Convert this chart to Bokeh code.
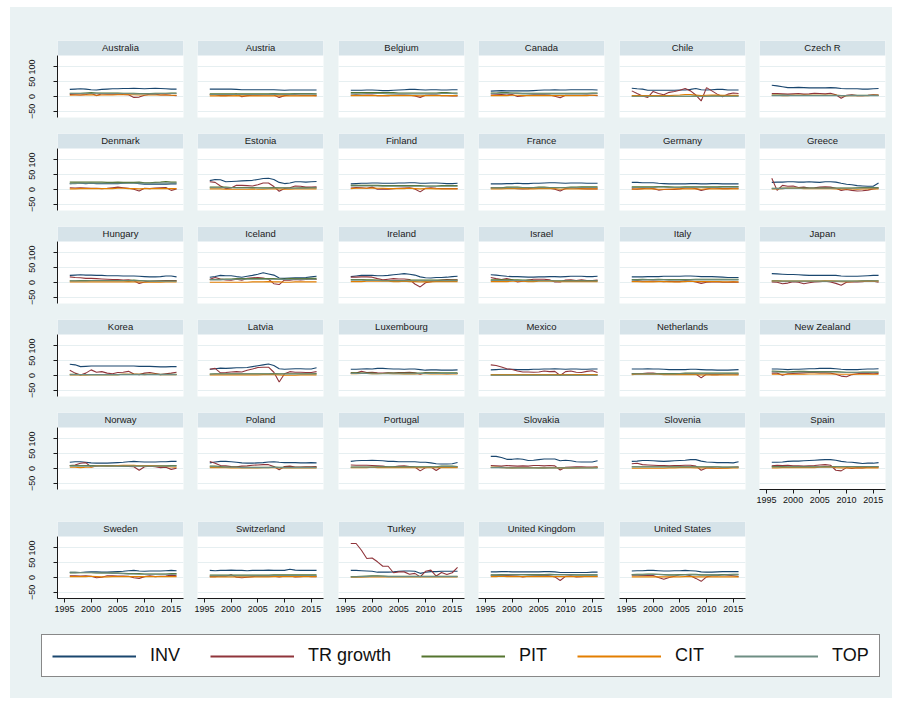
from bokeh.plotting import figure
from bokeh.layouts import column, row
from bokeh.models import Range1d, FixedTicker, BoxAnnotation, Label, Legend, LegendItem
from bokeh.embed import file_html
from bokeh.resources import INLINE

YEARS = list(range(1996, 2017))
X_TICKS = [1995, 2000, 2005, 2010, 2015]
Y_TICKS = [-50, 0, 50, 100]
SERIES = ["INV", "TR growth", "PIT", "CIT", "TOP"]
COUNTRIES = [
    "Australia", "Austria", "Belgium", "Canada", "Chile", "Czech R",
    "Denmark", "Estonia", "Finland", "France", "Germany", "Greece",
    "Hungary", "Iceland", "Ireland", "Israel", "Italy", "Japan",
    "Korea", "Latvia", "Luxembourg", "Mexico", "Netherlands", "New Zealand",
    "Norway", "Poland", "Portugal", "Slovakia", "Slovenia", "Spain",
    "Sweden", "Switzerland", "Turkey", "United Kingdom", "United States",
]

INV = {
    "Australia": [24,25,26,25,23,22,24,25,26,26,27,27,28,27,26,27,28,27,26,25,25],
    "Austria": [25,25,25,25,25,24,23,23,23,23,23,23,23,22,21,22,22,22,22,22,22],
    "Belgium": [21,21,21,22,22,21,20,20,21,22,23,24,24,23,22,23,23,22,22,23,23],
    "Canada": [18,19,20,19,19,19,19,19,20,21,22,22,23,22,22,23,23,23,23,23,22],
    "Chile": [28,26,25,21,21,21,21,21,21,22,22,24,27,23,22,23,24,24,22,22,22],
    "Czech R": [38,36,33,30,30,31,30,29,29,29,29,30,29,27,26,26,26,25,25,26,27],
    "Denmark": [20,21,21,20,21,20,20,20,20,20,21,22,22,20,18,18,18,18,18,19,19],
    "Estonia": [30,34,33,26,27,28,29,30,31,34,37,38,34,24,20,22,26,26,25,26,27],
    "Finland": [19,20,21,21,22,22,21,21,21,22,22,23,23,21,21,22,22,21,20,20,21],
    "France": [19,19,19,20,20,21,20,20,21,21,22,23,23,22,21,22,22,22,21,21,21],
    "Germany": [24,24,23,23,23,21,20,19,19,19,19,20,20,19,19,20,20,19,19,19,19],
    "Greece": [24,25,25,26,26,25,25,26,25,24,26,26,25,21,18,16,13,12,11,11,22],
    "Hungary": [24,25,26,25,25,24,24,23,23,23,22,22,22,21,20,19,19,20,22,22,19],
    "Iceland": [18,20,24,23,23,20,18,21,24,28,33,29,25,15,14,15,16,16,17,19,21],
    "Ireland": [20,22,24,24,24,23,23,24,26,28,30,28,25,19,16,15,17,17,18,20,21],
    "Israel": [26,25,23,21,20,20,19,18,18,19,19,20,20,19,20,21,21,21,20,20,21],
    "Italy": [19,19,19,20,20,20,21,21,21,21,22,22,21,20,20,20,19,18,17,17,17],
    "Japan": [30,29,28,27,27,26,25,24,24,24,24,24,24,22,21,21,21,22,23,24,24],
    "Korea": [38,36,30,31,32,32,32,32,32,32,32,32,32,31,31,31,30,29,29,30,30],
    "Latvia": [21,23,25,24,25,26,26,27,30,33,36,39,34,23,21,22,23,23,22,22,26],
    "Luxembourg": [21,21,22,23,22,24,24,23,22,22,21,22,22,20,18,19,19,18,18,18,19],
    "Mexico": [19,20,21,21,21,20,20,20,21,21,22,22,23,22,21,22,22,21,21,22,22],
    "Netherlands": [22,22,22,23,22,22,21,20,20,20,20,21,21,20,19,19,18,18,18,19,20],
    "New Zealand": [22,22,21,20,21,21,22,23,23,24,24,24,23,21,20,20,20,21,22,22,23],
    "Norway": [21,23,23,21,19,18,18,18,19,20,21,23,24,23,22,22,22,23,23,24,24],
    "Poland": [19,22,24,24,23,21,19,18,18,19,20,22,23,21,20,20,20,19,19,20,19],
    "Portugal": [24,26,27,27,28,27,26,24,24,23,23,23,23,21,21,19,16,15,15,16,20],
    "Slovakia": [41,41,37,31,31,33,31,27,28,30,32,32,32,26,28,26,23,22,22,22,26],
    "Slovenia": [24,25,27,27,26,25,24,25,26,27,28,30,30,25,22,21,20,20,20,19,23],
    "Spain": [21,21,22,24,25,25,26,27,28,29,30,30,28,24,22,21,19,17,18,18,20],
    "Sweden": [17,16,17,18,19,19,18,18,19,20,21,23,24,22,21,22,22,22,23,24,23],
    "Switzerland": [24,23,24,24,25,24,24,23,24,24,24,25,24,24,24,28,25,24,24,24,24],
    "Turkey": [24,24,23,22,21,18,18,18,19,21,22,22,21,14,18,20,20,21,21,21,21],
    "United Kingdom": [19,19,20,20,19,19,19,19,19,19,20,20,19,17,17,17,17,17,17,18,18],
    "United States": [22,23,23,24,24,23,22,22,23,23,24,23,22,19,18,18,19,20,20,20,20],
}

TR_GROWTH = {
    "Australia": [7,6,5,7,10,3,9,8,8,9,7,6,-3,-2,4,8,8,5,6,4,3],
    "Austria": [6,6,3,3,4,8,-1,3,4,4,5,6,5,-3,3,5,6,4,4,4,3],
    "Belgium": [4,6,4,5,5,3,3,3,4,5,5,4,2,-3,4,5,5,3,3,2,2],
    "Canada": [5,6,7,5,7,0,2,4,6,6,6,5,1,-4,4,4,4,4,5,4,3],
    "Chile": [19,10,2,-3,17,10,6,14,17,21,27,19,5,-15,30,19,8,-1,8,12,10],
    "Czech R": [10,10,9,8,9,10,8,9,11,10,9,11,6,-6,4,6,3,3,4,6,5],
    "Denmark": [6,5,6,5,4,4,3,4,6,8,6,4,1,-5,4,3,5,6,7,-3,2],
    "Estonia": [26,24,12,3,5,14,14,13,12,16,22,22,10,-6,3,6,12,11,8,8,9],
    "Finland": [5,7,6,4,8,1,2,1,3,4,5,6,2,-8,4,6,4,3,3,3,3],
    "France": [6,5,5,6,4,3,2,3,5,6,5,4,1,-5,3,6,4,3,2,2,2],
    "Germany": [2,1,3,5,3,-2,0,1,0,2,5,6,3,-3,1,6,4,3,3,4,4],
    "Greece": [38,-3,14,11,12,7,8,5,6,8,9,8,4,-3,0,-3,-5,-4,-2,2,4],
    "Hungary": [19,17,16,14,14,13,12,11,10,10,8,9,6,-3,2,4,5,6,7,7,7],
    "Iceland": [11,17,12,9,8,11,8,14,16,17,15,11,-4,-7,9,8,10,9,10,12,10],
    "Ireland": [18,18,19,19,18,13,9,11,13,12,12,10,-5,-15,-1,3,6,8,10,9,9],
    "Israel": [17,13,10,13,9,2,4,8,11,11,11,9,2,2,8,9,7,9,7,7,8],
    "Italy": [4,7,4,4,5,4,3,4,3,3,7,5,2,-3,1,2,3,1,1,2,1],
    "Japan": [2,1,-4,-2,3,1,-4,-1,2,3,4,2,-3,-9,1,2,2,3,5,4,1],
    "Korea": [18,8,2,8,19,11,13,8,6,10,11,14,5,3,8,10,7,3,6,8,11],
    "Latvia": [21,24,9,10,12,13,12,18,22,27,28,28,11,-22,6,13,11,11,10,10,13],
    "Luxembourg": [9,8,14,10,11,9,8,9,8,10,10,11,9,4,9,8,8,7,6,7,7],
    "Mexico": [36,34,29,23,20,15,12,12,11,12,15,13,14,0,13,15,11,10,14,16,10],
    "Netherlands": [6,6,7,8,8,6,4,5,5,6,7,6,5,-8,5,3,3,4,6,5,4],
    "New Zealand": [8,8,1,6,7,8,9,10,10,9,9,8,4,-2,-4,3,6,8,7,6,7],
    "Norway": [10,12,18,20,5,8,10,8,9,9,8,7,6,-6,6,8,6,3,4,-3,1],
    "Poland": [24,18,10,9,7,6,8,9,11,12,13,13,7,-4,7,8,5,5,6,6,7],
    "Portugal": [12,11,11,11,10,9,8,5,6,8,9,7,5,-8,3,5,-7,5,5,5,4],
    "Slovakia": [10,9,8,10,9,8,9,8,10,10,9,10,9,-5,4,5,6,6,5,5,6],
    "Slovenia": [16,18,13,12,11,10,10,9,10,10,11,11,8,-6,2,2,1,2,3,4,5],
    "Spain": [9,11,10,11,9,9,8,9,10,12,13,11,-6,-8,3,0,3,2,4,5,4],
    "Sweden": [6,6,5,6,4,-1,1,6,6,5,5,4,-1,-3,3,6,3,4,5,8,6],
    "Switzerland": [3,3,5,4,9,1,-1,1,3,5,4,5,4,2,4,5,2,3,4,3,3],
    "Turkey": [115,115,92,64,66,53,38,38,16,19,19,11,14,2,21,25,5,17,10,16,34],
    "United Kingdom": [6,7,8,7,6,5,2,4,6,7,8,6,2,-10,4,6,2,3,4,4,4],
    "United States": [8,8,7,7,7,0,-6,0,4,10,10,6,-3,-13,2,6,6,10,8,6,3],
}

PIT = {
    "Australia": [11,11,11,12,13,12,12,12,12,12,11,11,11,10,10,10,11,11,11,12,12],
    "Austria": [9,9,9,9,9,9,9,9,9,9,9,9,10,9,9,9,10,10,10,10,9],
    "Belgium": [13,13,13,13,13,13,13,13,13,12,12,12,12,12,12,12,12,13,13,12,12],
    "Canada": [12,12,13,13,12,12,11,11,11,11,11,11,11,11,11,11,11,11,11,12,12],
    "Chile": [1,1,1,1,1,1,1,1,1,1,1,1,2,1,1,2,2,2,2,2,2],
    "Czech R": [5,5,5,4,4,4,4,4,4,4,4,4,4,3,3,4,4,4,4,4,4],
    "Denmark": [25,25,25,25,25,25,25,24,24,25,24,24,24,25,23,23,24,25,27,25,25],
    "Estonia": [8,8,8,8,7,7,7,7,7,6,6,6,7,6,6,5,5,6,6,6,6],
    "Finland": [14,14,14,14,14,14,13,13,13,13,13,13,13,13,12,12,12,13,13,13,13],
    "France": [5,6,6,8,8,8,7,7,7,8,8,7,7,7,7,8,8,9,9,9,9],
    "Germany": [9,9,9,9,9,10,10,9,8,8,9,9,9,9,9,9,9,10,10,10,10],
    "Greece": [4,4,5,5,5,5,5,5,5,5,5,5,5,5,5,5,6,7,7,7,7],
    "Hungary": [6,6,7,7,7,7,7,7,7,7,7,7,8,7,6,5,5,5,5,5,5],
    "Iceland": [10,10,11,12,12,13,13,13,13,13,13,13,13,12,12,13,13,13,13,14,14],
    "Ireland": [10,10,10,9,9,8,7,7,7,7,7,8,8,8,8,8,8,8,8,8,8],
    "Israel": [9,9,9,9,9,9,8,8,7,7,7,7,6,6,6,6,6,6,6,6,6],
    "Italy": [10,10,11,10,10,11,10,10,10,10,10,10,11,11,11,11,11,11,11,11,11],
    "Japan": [6,6,5,5,5,5,5,5,5,5,5,5,5,5,5,5,5,6,6,6,6],
    "Korea": [4,4,3,3,3,3,3,3,3,3,4,4,4,4,4,4,4,4,4,4,4],
    "Latvia": [5,6,6,6,6,6,6,6,6,6,6,6,7,6,6,6,6,6,6,6,7],
    "Luxembourg": [9,9,8,8,8,7,7,8,8,8,8,8,8,8,9,9,9,9,9,9,9],
    "Mexico": [2,2,2,2,2,2,2,2,2,2,2,2,2,2,2,2,2,2,2,2,2],
    "Netherlands": [6,6,6,6,6,7,7,7,7,7,8,8,8,8,8,8,8,8,8,8,8],
    "New Zealand": [15,14,13,12,13,14,14,13,13,13,13,13,13,12,11,11,11,12,12,12,12],
    "Norway": [10,10,10,10,10,10,10,10,10,9,9,9,9,9,9,9,9,9,9,10,10],
    "Poland": [8,8,7,5,5,5,4,4,4,4,4,4,5,4,4,4,4,4,4,4,4],
    "Portugal": [5,5,5,5,5,6,6,6,6,6,6,6,6,6,6,6,6,8,8,8,7],
    "Slovakia": [4,4,4,3,3,3,3,3,3,2,2,3,3,3,2,2,3,3,3,3,3],
    "Slovenia": [6,6,6,6,6,6,6,6,6,6,6,6,6,6,6,6,6,5,5,5,5],
    "Spain": [7,7,7,6,6,6,6,6,6,6,7,7,7,7,7,7,7,7,7,7,7],
    "Sweden": [15,16,16,16,16,15,15,15,15,15,14,13,13,13,12,12,12,12,12,13,13],
    "Switzerland": [8,8,8,8,8,8,8,8,8,8,8,8,9,9,9,9,9,9,9,9,9],
    "Turkey": [3,3,4,5,6,6,5,4,4,4,4,4,4,4,4,4,4,4,4,4,4],
    "United Kingdom": [9,9,10,10,10,10,10,10,10,10,10,11,10,10,10,10,9,9,9,9,9],
    "United States": [10,11,11,12,12,11,10,9,9,10,10,11,11,9,9,9,9,10,10,11,11],
}

CIT = {
    "Australia": [4,5,5,5,6,4,5,5,5,6,6,6,6,5,5,5,5,5,5,4,4],
    "Austria": [2,2,2,2,2,3,2,2,2,2,2,2,2,2,2,2,2,2,2,2,2],
    "Belgium": [3,3,3,3,3,3,3,3,3,3,3,3,3,2,3,3,3,3,3,3,3],
    "Canada": [3,3,3,3,4,4,3,3,3,3,3,3,3,3,3,3,3,3,3,4,4],
    "Chile": [3,3,3,3,3,3,3,3,4,5,7,7,5,3,4,5,5,4,4,4,4],
    "Czech R": [4,4,3,3,4,4,4,4,4,4,4,4,4,3,3,3,3,3,3,4,4],
    "Denmark": [2,2,3,3,3,3,3,3,3,4,4,3,3,2,3,3,3,3,3,3,3],
    "Estonia": [2,2,2,1,1,1,1,1,2,1,1,2,2,2,1,1,2,2,2,2,2],
    "Finland": [3,4,4,4,5,4,4,3,3,3,3,4,3,2,3,3,2,2,2,2,2],
    "France": [2,2,2,3,3,3,3,2,2,3,3,3,3,1,2,2,2,2,2,2,2],
    "Germany": [1,2,2,2,2,1,1,1,2,2,2,2,2,1,2,2,2,2,2,2,2],
    "Greece": [2,2,3,4,4,4,3,3,3,3,3,3,2,2,2,2,1,2,2,2,2],
    "Hungary": [2,2,2,2,2,2,2,2,2,2,2,3,2,2,1,1,1,1,2,2,2],
    "Iceland": [1,1,1,1,1,1,1,1,2,2,2,3,2,2,1,1,2,2,2,2,2],
    "Ireland": [3,3,3,4,4,4,4,4,3,3,4,3,3,2,3,2,3,3,3,3,3],
    "Israel": [3,3,3,3,4,4,4,3,3,4,5,4,4,3,3,3,3,3,3,3,3],
    "Italy": [3,3,2,3,2,3,3,2,2,2,3,4,3,3,3,3,3,2,2,2,2],
    "Japan": [5,5,4,4,4,4,4,4,4,4,5,5,4,3,3,3,4,4,4,4,4],
    "Korea": [2,2,2,2,3,3,3,3,3,3,4,4,4,4,3,4,4,3,3,3,3],
    "Latvia": [2,2,2,2,2,2,2,2,2,2,3,3,3,2,1,1,1,2,2,2,2],
    "Luxembourg": [6,6,7,7,6,6,7,7,6,6,5,5,5,6,6,5,5,5,5,5,5],
    "Mexico": [2,2,2,2,2,2,2,2,2,2,2,2,2,2,2,2,3,3,3,3,3],
    "Netherlands": [3,4,4,4,4,4,3,3,3,3,3,3,3,2,2,2,2,2,2,2,2],
    "New Zealand": [4,4,4,4,4,4,4,5,5,5,5,5,5,4,4,4,4,4,4,4,4],
    "Norway": [4,4,3,4,4,9,8,8,8,10,11,11,11,9,9,10,9,8,7,5,4],
    "Poland": [3,3,3,3,2,2,2,2,2,2,3,3,3,2,2,2,2,2,2,2,2],
    "Portugal": [3,3,3,3,4,3,3,3,3,3,3,3,3,3,3,3,3,3,3,3,3],
    "Slovakia": [4,4,3,3,2,3,3,3,3,3,3,3,3,2,2,2,2,3,3,3,4],
    "Slovenia": [1,1,1,1,1,1,1,2,2,3,3,3,2,2,2,1,1,1,1,2,2],
    "Spain": [2,2,3,3,3,3,3,3,3,4,4,5,3,2,2,2,2,2,2,2,2],
    "Sweden": [3,3,3,3,4,3,2,2,3,3,3,3,3,3,3,3,3,3,3,3,3],
    "Switzerland": [2,2,2,2,2,2,2,2,2,2,2,2,3,3,3,3,3,3,3,3,3],
    "Turkey": [1,1,1,2,2,2,2,2,2,2,2,2,2,2,2,2,2,2,2,2,2],
    "United Kingdom": [3,3,4,3,3,3,3,3,3,3,3,3,3,3,3,3,3,3,3,3,3],
    "United States": [2,2,2,2,2,2,2,2,2,2,3,3,2,2,2,2,2,2,2,2,2],
}

TOP = {
    "Australia": [10,10,10,11,11,11,10,10,10,10,10,10,9,9,9,9,9,10,10,10,10],
    "Austria": [7,7,7,7,7,7,7,7,7,7,7,7,8,7,7,7,8,8,8,8,8],
    "Belgium": [9,9,9,10,10,10,10,9,9,9,9,9,9,9,9,9,9,10,10,10,9],
    "Canada": [10,10,11,11,11,10,9,9,9,9,9,9,9,9,9,9,9,9,9,10,10],
    "Chile": [1,1,1,1,1,1,1,1,1,1,1,1,1,1,1,1,1,1,1,1,1],
    "Czech R": [3,3,3,3,3,3,3,3,3,3,3,3,3,3,3,3,3,3,3,3,3],
    "Denmark": [20,20,21,21,21,21,21,21,21,21,21,21,21,22,21,21,22,22,23,22,22],
    "Estonia": [6,6,6,6,6,5,5,5,5,5,4,4,5,5,5,4,4,4,4,5,5],
    "Finland": [12,12,12,12,12,12,11,11,11,11,11,11,11,11,11,11,11,11,11,11,11],
    "France": [5,5,5,6,6,6,6,6,6,6,6,6,6,6,6,6,6,7,7,7,7],
    "Germany": [7,7,7,7,7,8,8,7,7,7,7,7,8,8,7,7,7,8,8,8,8],
    "Greece": [3,3,3,4,4,4,4,4,4,4,4,4,4,4,4,4,4,5,5,5,5],
    "Hungary": [5,5,5,5,6,6,6,6,6,6,6,6,6,6,5,4,4,4,4,4,4],
    "Iceland": [9,9,9,10,10,11,11,11,11,11,11,11,11,10,10,10,11,11,11,11,11],
    "Ireland": [8,8,8,7,7,7,6,6,6,6,6,6,6,6,6,6,6,6,7,6,6],
    "Israel": [7,7,7,7,7,7,7,6,6,6,6,6,5,5,5,5,5,5,5,5,5],
    "Italy": [8,8,9,9,9,9,9,8,8,8,8,9,9,9,9,9,9,9,9,9,9],
    "Japan": [5,5,4,4,4,4,4,4,4,4,4,4,4,4,4,4,4,5,5,5,5],
    "Korea": [3,3,3,3,3,3,3,3,3,3,3,3,3,3,3,3,3,3,3,3,3],
    "Latvia": [4,5,5,5,5,5,5,5,5,5,5,5,5,5,5,5,5,5,5,5,5],
    "Luxembourg": [7,7,7,7,6,6,6,6,6,6,6,6,6,7,7,7,7,7,7,7,7],
    "Mexico": [1,1,1,1,1,1,1,1,1,1,1,1,1,1,1,1,1,1,1,1,1],
    "Netherlands": [5,5,5,5,5,5,5,5,5,6,6,6,6,6,6,6,6,6,6,6,6],
    "New Zealand": [13,12,11,11,11,12,12,12,12,12,12,12,12,11,10,10,10,10,10,10,10],
    "Norway": [8,8,8,8,8,8,8,8,8,8,8,8,8,8,8,8,8,8,8,8,8],
    "Poland": [6,6,5,4,4,4,3,3,3,3,3,3,4,3,3,3,3,3,3,3,3],
    "Portugal": [4,4,4,4,4,5,5,5,5,5,5,5,5,5,5,5,5,6,6,6,6],
    "Slovakia": [3,3,3,2,2,2,2,2,2,2,2,2,2,2,2,2,2,2,2,2,2],
    "Slovenia": [5,5,5,5,5,5,5,5,5,5,5,5,5,5,5,5,5,4,4,4,4],
    "Spain": [5,5,5,5,5,5,5,5,5,5,5,5,6,6,6,6,6,6,6,6,6],
    "Sweden": [18,18,17,17,17,16,15,15,14,14,13,12,12,11,11,11,11,11,11,11,11],
    "Switzerland": [6,6,6,6,6,6,6,6,6,6,6,6,7,7,7,7,7,7,7,7,7],
    "Turkey": [2,2,3,3,4,4,4,3,3,3,3,3,3,3,3,3,3,3,3,3,3],
    "United Kingdom": [8,8,8,9,9,9,9,8,8,8,8,9,9,9,9,9,8,8,8,8,8],
    "United States": [9,9,9,10,10,10,9,8,8,8,9,9,9,8,8,8,8,8,9,9,9],
}

DATA = [INV, TR_GROWTH, PIT, CIT, TOP]
for d in DATA:
    for k, v in d.items():
        assert len(v) == len(YEARS), (k, len(v))

# ---- style ----
BG = "#EAF2F3"
STRIP = "#D6E3E9"
GRID = "#E6EFF1"
AXIS = "#1a1a1a"
COLORS = ["#1A476F", "#90353B", "#55752F", "#E37E00", "#6E8E84"]
FONT = "Liberation Sans"

X_LO, X_HI = 1993.7, 2017.3
Y_LO, Y_TOP, Y_HDR = -71.0, 138.6, 189.3
FRAME_W, FRAME_H = 126, 77
NCOL = 6
LEFT_BORDERS = [47, 7, 7, 7, 7, 7]
RIGHT_BORDERS = [7, 8, 7, 8, 7, 7]


def make_panel(name, col, xaxis, top_pad, bottom_pad):
    left, right = LEFT_BORDERS[col], RIGHT_BORDERS[col]
    p = figure(
        width=left + FRAME_W + right, height=top_pad + FRAME_H + bottom_pad,
        x_range=Range1d(X_LO, X_HI), y_range=Range1d(Y_LO, Y_HDR),
        x_axis_location="below" if xaxis else None,
        y_axis_location="left" if col == 0 else None,
        output_backend="svg", toolbar_location=None,
        min_border_left=left, min_border_right=right,
        min_border_top=top_pad, min_border_bottom=bottom_pad,
        background_fill_color="white", border_fill_color=BG,
        outline_line_color=None,
    )
    p.xgrid.visible = False
    p.ygrid.ticker = FixedTicker(ticks=Y_TICKS)
    p.ygrid.grid_line_color = GRID
    p.ygrid.grid_line_width = 1
    if col == 0:
        ax = p.yaxis[0]
        ax.ticker = FixedTicker(ticks=Y_TICKS)
        ax.bounds = (Y_LO, Y_TOP)
        ax.major_label_orientation = "vertical"
        ax.major_label_standoff = 18
        ax.major_tick_out = 4
        ax.major_tick_in = 0
        ax.minor_tick_out = 0
        ax.minor_tick_in = 0
        ax.axis_line_color = AXIS
        ax.major_tick_line_color = AXIS
        ax.major_label_text_font = FONT
        ax.major_label_text_font_size = "9px"
        ax.major_label_text_color = "#111111"
    if xaxis:
        ax = p.xaxis[0]
        ax.ticker = FixedTicker(ticks=X_TICKS)
        ax.major_label_standoff = 3
        ax.major_tick_out = 4
        ax.major_tick_in = 0
        ax.minor_tick_out = 0
        ax.minor_tick_in = 0
        ax.axis_line_color = AXIS
        ax.major_tick_line_color = AXIS
        ax.major_label_text_font = FONT
        ax.major_label_text_font_size = "9px"
        ax.major_label_text_color = "#111111"
    for d, c in zip(DATA, COLORS):
        p.line(YEARS, d[name], line_color=c, line_width=1.1)
    p.add_layout(BoxAnnotation(bottom=Y_TOP, fill_color=STRIP, fill_alpha=1.0,
                               line_color=None))
    p.add_layout(Label(x=(X_LO + X_HI) / 2, y=(Y_TOP + Y_HDR) / 2, text=name,
                       text_align="center", text_baseline="middle",
                       text_font=FONT, text_font_size="9.5px",
                       text_color="#1a1a1a"))
    return p


def filler(col, top_pad, bottom_pad):
    left, right = LEFT_BORDERS[col], RIGHT_BORDERS[col]
    p = figure(width=left + FRAME_W + right, height=top_pad + FRAME_H + bottom_pad,
               x_axis_location=None, y_axis_location=None,
               output_backend="svg", toolbar_location=None,
               min_border_left=left, min_border_right=right,
               min_border_top=top_pad, min_border_bottom=bottom_pad,
               background_fill_color=BG, border_fill_color=BG,
               outline_line_color=None)
    p.xgrid.visible = False
    p.ygrid.visible = False
    return p


rows = []
nrows = (len(COUNTRIES) + NCOL - 1) // NCOL
for r in range(nrows):
    top_pad = 33 if r == 0 else 0
    if r == nrows - 1:
        bottom_pad = 22
    elif r == nrows - 2:
        bottom_pad = 32
    else:
        bottom_pad = 16
    figs = []
    for c in range(NCOL):
        i = r * NCOL + c
        if i < len(COUNTRIES):
            has_x = (i + NCOL) >= len(COUNTRIES)
            figs.append(make_panel(COUNTRIES[i], c, has_x, top_pad, bottom_pad))
        else:
            figs.append(filler(c, top_pad, bottom_pad))
    rows.append(row(figs, spacing=0))

TOTAL_W = sum(LEFT_BORDERS) + sum(RIGHT_BORDERS) + NCOL * FRAME_W

# ---- legend (its sample lines use the first panel's series, kept outside the
# legend frame's visible range so only the legend key shows) ----
lg = figure(width=TOTAL_W, height=78, x_range=Range1d(0, 1), y_range=Range1d(0, 1),
            x_axis_location=None, y_axis_location=None,
            output_backend="svg", toolbar_location=None, min_border=0,
            background_fill_color=BG, border_fill_color=BG, outline_line_color=None)
lg.xgrid.visible = False
lg.ygrid.visible = False
items = []
for s, d, c in zip(SERIES, DATA, COLORS):
    rr = lg.line(YEARS, d[COUNTRIES[0]], line_color=c, line_width=2)
    items.append(LegendItem(label=s, renderers=[rr]))
legend = Legend(items=items, orientation="horizontal", location=(31, 21),
                glyph_width=84, glyph_height=20, label_height=20,
                label_standoff=14, spacing=30, padding=10, margin=0,
                label_text_font=FONT, label_text_font_size="18px",
                label_text_color="#111111",
                border_line_color="#111111", border_line_width=1,
                background_fill_color="white", background_fill_alpha=1.0)
lg.add_layout(legend, "center")

layout = column(rows + [lg], spacing=0, margin=(7, 0, 0, 10),
                styles={"background-color": BG})

with open("out.html", "w") as f:
    f.write(file_html(layout, INLINE))
